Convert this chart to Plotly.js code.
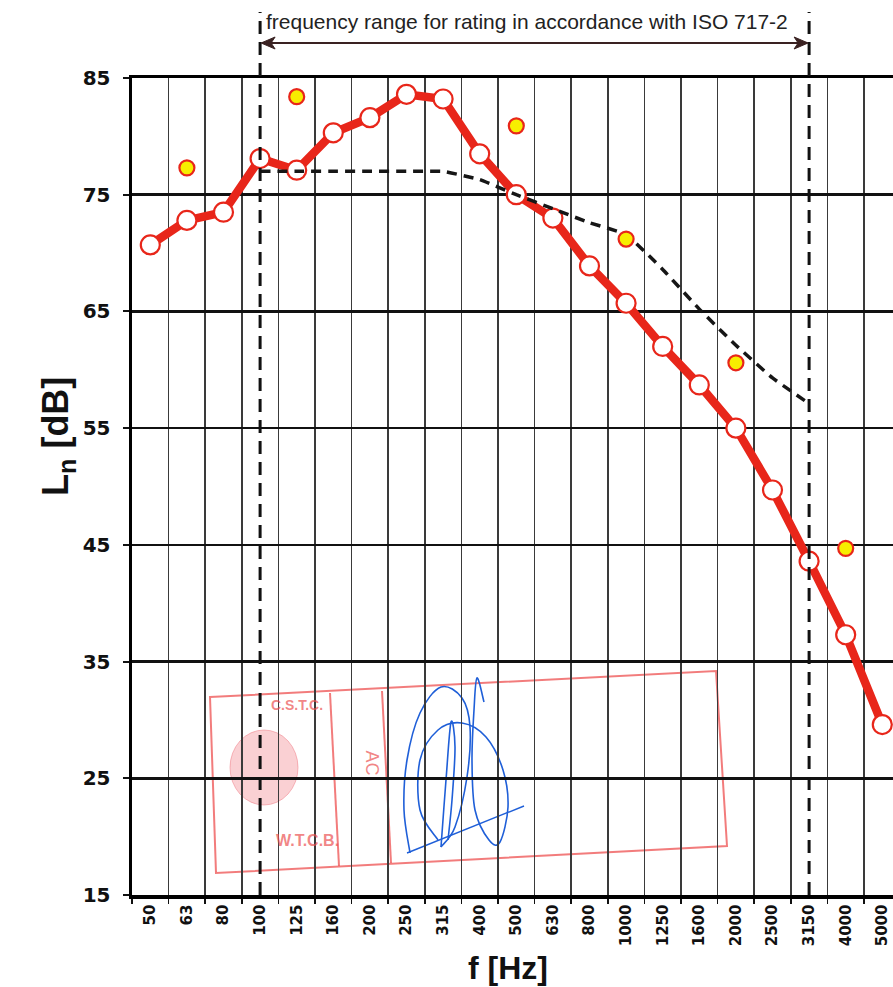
<!DOCTYPE html>
<html>
<head>
<meta charset="utf-8">
<script src="https://cdn.plot.ly/plotly-3.0.1.min.js"></script>
<style>
  html, body { margin: 0; padding: 0; background: #fff; }
  #chart { width: 893px; height: 987px; }
</style>
</head>
<body>
<div id="chart"></div>
<script>
// ---------------- data ----------------
const freqLabels = ['50','63','80','100','125','160','200','250','315','400','500','630','800','1000','1250','1600','2000','2500','3150','4000','5000'];
const lnMeasured = [70.7,72.8,73.5,78.1,77.1,80.3,81.6,83.6,83.2,78.5,75.0,73.0,68.9,65.7,62.0,58.7,55.0,49.7,43.6,37.3,29.6];
const refFreqs   = ['100','125','160','200','250','315','400','500','630','800','1000','1250','1600','2000','2500','3150'];
const refShifted = [77.0,77.0,77.0,77.0,77.0,77.0,76.3,75.0,73.8,72.6,71.6,68.6,65.2,62.1,59.3,57.1];
const octFreqs   = ['63','125','500','1000','2000','4000'];
const octValues  = [77.3,83.4,80.9,71.2,60.6,44.7];
const yTicks     = [15,25,35,45,55,65,75,85];
const rangeText  = 'frequency range for rating in accordance with ISO 717-2';
const rangeStart = '100';
const rangeEnd   = '3150';

// ---------------- geometry helpers (decoration only) ----------------
const W = 893, H = 987, ML = 132, MR = 0, MT = 78, MB = 92;
const PW = W - ML - MR, PH = H - MT - MB;
const CELL = 36.6;
function pxX(x) { return (x - ML) / PW; }
function pxY(y) { return (H - MB - y) / PH; }
function fmt(v) { return v.toFixed(5); }
function polyPath(pts, close) {
  let s = '';
  pts.forEach((p, i) => { s += (i ? ' L ' : 'M ') + fmt(pxX(p[0])) + ',' + fmt(pxY(p[1])); });
  return s + (close ? ' Z' : '');
}
function smoothPath(pts) {
  const P = pts.map(p => [pxX(p[0]), pxY(p[1])]);
  let s = 'M ' + fmt(P[0][0]) + ',' + fmt(P[0][1]);
  for (let i = 0; i < P.length - 1; i++) {
    const p0 = P[Math.max(0, i - 1)], p1 = P[i], p2 = P[i + 1], p3 = P[Math.min(P.length - 1, i + 2)];
    const c1 = [p1[0] + (p2[0] - p0[0]) / 6, p1[1] + (p2[1] - p0[1]) / 6];
    const c2 = [p2[0] - (p3[0] - p1[0]) / 6, p2[1] - (p3[1] - p1[1]) / 6];
    s += ' C ' + fmt(c1[0]) + ',' + fmt(c1[1]) + ' ' + fmt(c2[0]) + ',' + fmt(c2[1]) + ' ' + fmt(p2[0]) + ',' + fmt(p2[1]);
  }
  return s;
}

const idxStart = freqLabels.indexOf(rangeStart);
const idxEnd = freqLabels.indexOf(rangeEnd);
const xStartPx = ML + (idxStart + 0.5) * CELL;
const xEndPx = ML + (idxEnd + 0.5) * CELL;
const ARROW_Y = 43;

// ---------------- traces ----------------
const RED = '#e8261a';
const traces = [
  {
    type: 'scatter', mode: 'lines+markers',
    x: freqLabels, y: lnMeasured,
    line: { color: RED, width: 8.5 },
    marker: { size: 19, color: '#ffffff', line: { color: RED, width: 2.2 } },
    cliponaxis: false, hoverinfo: 'skip'
  },
  {
    type: 'scatter', mode: 'lines',
    x: refFreqs, y: refShifted,
    line: { color: '#161616', width: 3.5, dash: '10px,7px', shape: 'spline', smoothing: 0.3 },
    hoverinfo: 'skip'
  },
  {
    type: 'scatter', mode: 'markers',
    x: octFreqs, y: octValues,
    marker: { size: 15, color: '#f7ee00', line: { color: RED, width: 2.2 } },
    cliponaxis: false, hoverinfo: 'skip'
  }
];

// ---------------- decorations ----------------
const STAMP = 'rgba(238,80,80,0.75)';
const SIG = '#1f5fd8';
const ARROWC = '#3a2222';
const shapes = [
  // rating range vertical dashed lines
  { type: 'line', xref: 'x', yref: 'paper', x0: idxStart, x1: idxStart, y0: 0, y1: pxY(12),
    line: { color: '#111', width: 3, dash: '13px,8px' }, layer: 'above' },
  { type: 'line', xref: 'x', yref: 'paper', x0: idxEnd, x1: idxEnd, y0: 0, y1: pxY(12),
    line: { color: '#111', width: 3, dash: '13px,8px' }, layer: 'above' },
  // double-headed arrow
  { type: 'path', xref: 'paper', yref: 'paper', layer: 'above', line: { color: ARROWC, width: 1.8 },
    path: polyPath([[xStartPx + 2, ARROW_Y], [xEndPx - 2, ARROW_Y]], false) },
  { type: 'path', xref: 'paper', yref: 'paper', layer: 'above', line: { color: ARROWC, width: 1 }, fillcolor: ARROWC,
    path: polyPath([[xStartPx + 1, ARROW_Y], [xStartPx + 15, ARROW_Y - 6], [xStartPx + 11, ARROW_Y], [xStartPx + 15, ARROW_Y + 6]], true) },
  { type: 'path', xref: 'paper', yref: 'paper', layer: 'above', line: { color: ARROWC, width: 1 }, fillcolor: ARROWC,
    path: polyPath([[xEndPx - 1, ARROW_Y], [xEndPx - 15, ARROW_Y - 6], [xEndPx - 11, ARROW_Y], [xEndPx - 15, ARROW_Y + 6]], true) },
  // stamp
  { type: 'path', xref: 'paper', yref: 'paper', layer: 'between',
    path: polyPath([[210,697],[716,671],[727,846],[216,873]], true),
    line: { color: STAMP, width: 2 } },
  { type: 'path', xref: 'paper', yref: 'paper', layer: 'between',
    path: polyPath([[330,693],[339,866]], false), line: { color: STAMP, width: 2 } },
  { type: 'path', xref: 'paper', yref: 'paper', layer: 'between',
    path: polyPath([[382,691],[391,863]], false), line: { color: STAMP, width: 2 } },
  { type: 'circle', xref: 'paper', yref: 'paper', layer: 'between',
    x0: pxX(230), x1: pxX(298), y0: pxY(805), y1: pxY(730),
    fillcolor: 'rgba(240,120,130,0.35)', line: { color: 'rgba(240,120,130,0.5)', width: 1 } },
  // signature
  { type: 'path', xref: 'paper', yref: 'paper', layer: 'between', line: { color: SIG, width: 1.6 },
    path: smoothPath([[410,853],[404,810],[407,760],[420,713],[441,687],[462,698],[470,727],[467,777],[455,827],[441,847]]) },
  { type: 'path', xref: 'paper', yref: 'paper', layer: 'between', line: { color: SIG, width: 1.6 },
    path: smoothPath([[438,840],[420,810],[420,760],[438,730],[462,723],[486,737],[503,770],[508,807],[500,842],[489,840],[475,810],[472,760],[474,710],[477,678],[484,702]]) },
  { type: 'path', xref: 'paper', yref: 'paper', layer: 'between', line: { color: SIG, width: 1.6 },
    path: smoothPath([[441,847],[446,780],[451,722],[455,747],[452,800],[448,840]]) },
  { type: 'path', xref: 'paper', yref: 'paper', layer: 'between', line: { color: SIG, width: 1.4 },
    path: polyPath([[407,853],[524,806]], false) }
];

const annotations = [
  { xref: 'x', yref: 'paper', x: (idxStart + idxEnd) / 2 - 0.2, y: pxY(22), text: rangeText, showarrow: false,
    xanchor: 'center', yanchor: 'middle',
    font: { family: 'Liberation Sans, Arial, sans-serif', size: 21, color: '#222' } },
  { xref: 'paper', yref: 'paper', x: pxX(58), y: pxY(437), text: 'L<sub>n</sub> [dB]', textangle: -90,
    showarrow: false, xanchor: 'center', yanchor: 'middle',
    font: { family: 'Liberation Sans, Arial, sans-serif', size: 36, color: '#111', weight: 'bold' } },
  { xref: 'paper', yref: 'paper', x: pxX(508), y: pxY(968), text: 'f [Hz]',
    showarrow: false, xanchor: 'center', yanchor: 'middle',
    font: { family: 'Liberation Sans, Arial, sans-serif', size: 32, color: '#111', weight: 'bold' } },
  // stamp texts
  { xref: 'paper', yref: 'paper', x: pxX(269), y: pxY(715), text: 'C.S.T.C.', showarrow: false,
    font: { family: 'Liberation Sans, Arial, sans-serif', size: 14, color: 'rgba(235,80,80,0.7)', weight: 'bold' } },
  { xref: 'paper', yref: 'paper', x: pxX(274), y: pxY(851), text: 'W.T.C.B.', showarrow: false,
    font: { family: 'Liberation Sans, Arial, sans-serif', size: 16, color: 'rgba(235,80,80,0.7)', weight: 'bold' } },
  { xref: 'paper', yref: 'paper', x: pxX(360), y: pxY(777), text: 'AC', textangle: 90, showarrow: false,
    font: { family: 'Liberation Sans, Arial, sans-serif', size: 18, color: 'rgba(235,80,80,0.7)' } }
];

const layout = {
  width: W, height: H,
  margin: { l: ML, r: MR, t: MT, b: MB, pad: 0 },
  paper_bgcolor: '#ffffff', plot_bgcolor: '#ffffff',
  showlegend: false,
  xaxis: {
    type: 'category', categoryorder: 'array', categoryarray: freqLabels,
    range: [-0.5, -0.5 + PW / CELL],
    tickson: 'boundaries', ticks: 'outside', ticklen: 5, tickwidth: 1.5, tickcolor: '#111',
    showgrid: true, gridcolor: '#3a3a3a', gridwidth: 1.5,
    showline: true, linecolor: '#000', linewidth: 3.5, mirror: true,
    tickangle: -90,
    tickfont: { family: 'DejaVu Sans, sans-serif', size: 15, color: '#111', weight: 'bold' },
    fixedrange: true
  },
  yaxis: {
    range: [15, 85], tickvals: yTicks, ticktext: yTicks.map(String),
    ticks: 'outside', ticklen: 6, tickwidth: 2, tickcolor: '#111',
    showgrid: true, gridcolor: '#111', gridwidth: 2.5, zeroline: false,
    showline: true, linecolor: '#000', linewidth: 3.5, mirror: false,
    tickfont: { family: 'DejaVu Sans, sans-serif', size: 20, color: '#111', weight: 'bold' },
    ticklabelstandoff: 8,
    fixedrange: true
  },
  shapes: shapes,
  annotations: annotations
};

Plotly.newPlot('chart', traces, layout, { displayModeBar: false, staticPlot: true });
</script>
</body>
</html>
